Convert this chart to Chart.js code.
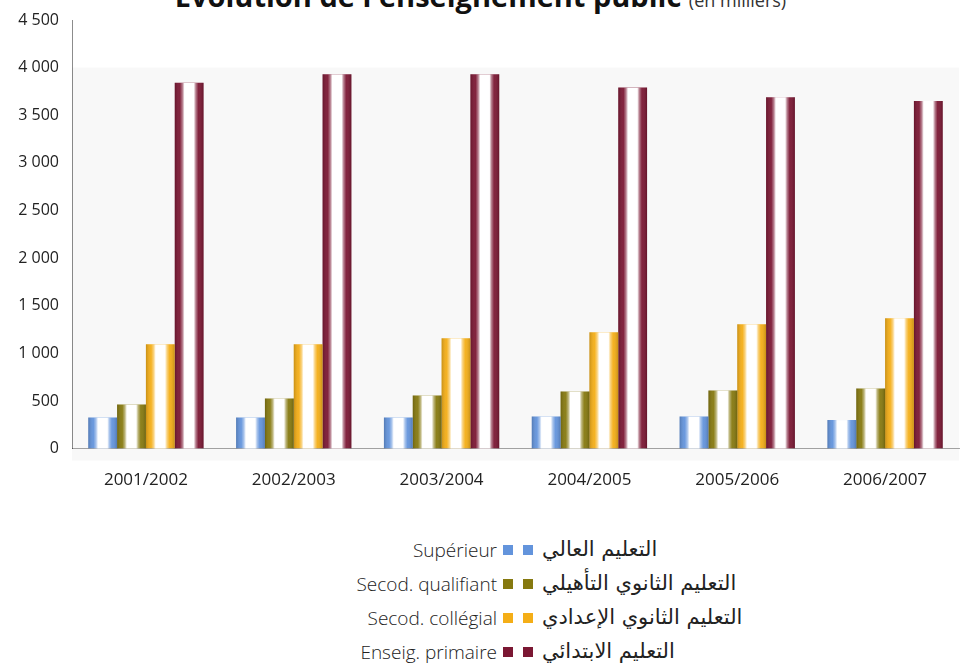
<!DOCTYPE html>
<html>
<head>
<meta charset="utf-8">
<script src="https://cdn.jsdelivr.net/npm/chart.js@4/dist/chart.umd.min.js"></script>
<style>
  html, body { margin: 0; padding: 0; background: #fff; }
  body { width: 961px; height: 667px; position: relative; overflow: hidden; font-family: "Open Sans", sans-serif; }
  #title { position: absolute; left: 0; width: 961px; top: -19px; text-align: center; white-space: nowrap;
           font-size: 29px; line-height: 29px; font-weight: bold; color: #111; }
  #title small { font-size: 18px; font-weight: normal; color: #333; }
  #wrap { position: absolute; left: 0; top: 0; width: 961px; height: 503px; }
  #legend { position: absolute; left: 0; top: 537px; width: 961px; }
  .row { position: relative; height: 34px; }
  .fr { position: absolute; right: 464px; top: 0; font-size: 19px; font-weight: 300; color: #222; line-height: 26px; }
  .sw { position: absolute; top: 8px; width: 10px; height: 10px; }
  .ar { position: absolute; left: 542px; top: -2px; font-family: "DejaVu Sans", sans-serif; font-size: 21px;
        color: #222; line-height: 28px; direction: rtl; }
</style>
</head>
<body>
<div id="title">Évolution de l'enseignement public <small>(en milliers)</small></div>
<div id="wrap"><canvas id="chart"></canvas></div>
<div id="legend"></div>
<script>
// Data (thousands of pupils/students)
const years = ['2001/2002', '2002/2003', '2003/2004', '2004/2005', '2005/2006', '2006/2007'];
const seriesFr = ['Supérieur', 'Secod. qualifiant', 'Secod. collégial', 'Enseig. primaire'];
const seriesAr = ['التعليم العالي', 'التعليم الثانوي التأهيلي', 'التعليم الثانوي الإعدادي', 'التعليم الابتدائي'];
const superieur = [326, 326, 326, 337, 337, 300];
const qualifiant = [463, 527, 558, 600, 611, 632];
const collegial = [1095, 1095, 1158, 1221, 1305, 1369];
const primaire = [3840, 3930, 3930, 3790, 3690, 3650];
const colors = ['#6394dc', '#86790f', '#f4ae17', '#7b1733'];
const yTicks = [0, 500, 1000, 1500, 2000, 2500, 3000, 3500, 4000, 4500];

function fmt(v) {
  return String(v).replace(/\B(?=(\d{3})+(?!\d))/g, ' ');
}

// light grey plot background, like the scan
const plotBg = {
  id: 'plotBg',
  beforeDraw(chart) {
    const { ctx, chartArea } = chart;
    const top = chart.scales.y.getPixelForValue(4000);
    ctx.save();
    ctx.fillStyle = '#f8f8f8';
    ctx.fillRect(chartArea.left, top, chartArea.right - chartArea.left, chartArea.bottom + 12 - top);
    ctx.restore();
  }
};

// white highlight down the middle of each bar (cylinder look)
const cylinder = {
  id: 'cylinder',
  afterDatasetsDraw(chart) {
    const ctx = chart.ctx;
    chart.data.datasets.forEach((ds, i) => {
      const meta = chart.getDatasetMeta(i);
      meta.data.forEach(bar => {
        const l = bar.x - bar.width / 2;
        const r = bar.x + bar.width / 2;
        const g = ctx.createLinearGradient(l, 0, r, 0);
        g.addColorStop(0, 'rgba(0,0,0,0.18)');
        g.addColorStop(0.18, 'rgba(255,255,255,0.05)');
        g.addColorStop(0.27, 'rgba(255,255,255,0.45)');
        g.addColorStop(0.34, 'rgba(255,255,255,1)');
        g.addColorStop(0.66, 'rgba(255,255,255,1)');
        g.addColorStop(0.73, 'rgba(255,255,255,0.45)');
        g.addColorStop(0.82, 'rgba(255,255,255,0.05)');
        g.addColorStop(1, 'rgba(0,0,0,0.18)');
        ctx.save();
        ctx.fillStyle = g;
        ctx.fillRect(l, bar.y, bar.width, bar.base - bar.y);
        ctx.restore();
      });
    });
  }
};

const ctx = document.getElementById('chart').getContext('2d');
new Chart(ctx, {
  type: 'bar',
  data: {
    labels: years,
    datasets: [superieur, qualifiant, collegial, primaire].map((d, i) => ({
      label: seriesFr[i],
      data: d,
      backgroundColor: colors[i],
      borderWidth: 0,
      categoryPercentage: 0.78,
      barPercentage: 1.0
    }))
  },
  options: {
    responsive: true,
    maintainAspectRatio: false,
    animation: false,
    layout: { padding: { top: 20, right: 2, left: 0, bottom: 0 } },
    plugins: {
      legend: { display: false },
      tooltip: { enabled: false }
    },
    scales: {
      x: {
        grid: { display: false },
        border: { display: true, color: 'rgba(0,0,0,0.35)', dash: [2, 6] },
        ticks: { color: '#222', font: { family: 'Open Sans', size: 17 }, padding: 13, maxRotation: 0 }
      },
      y: {
        min: 0,
        max: 4500,
        afterBuildTicks: s => { s.ticks = yTicks.map(v => ({ value: v })); },
        afterFit: s => { s.width = 72; },
        grid: { display: false },
        border: { display: true, color: 'rgba(0,0,0,0.45)', dash: [8, 3] },
        ticks: { color: '#222', font: { family: 'Open Sans', size: 16 }, padding: 5, callback: v => fmt(v) }
      }
    }
  },
  plugins: [plotBg, cylinder]
});

// legend: french label, two swatches, arabic label
const legend = document.getElementById('legend');
seriesFr.forEach((name, i) => {
  const row = document.createElement('div');
  row.className = 'row';
  row.innerHTML = `
    <span class="fr">${name}</span>
    <span class="sw" style="left:503px;background:${colors[i]}"></span>
    <span class="sw" style="left:523px;background:${colors[i]}"></span>
    <span class="ar">${seriesAr[i]}</span>`;
  legend.appendChild(row);
});
</script>
</body>
</html>
